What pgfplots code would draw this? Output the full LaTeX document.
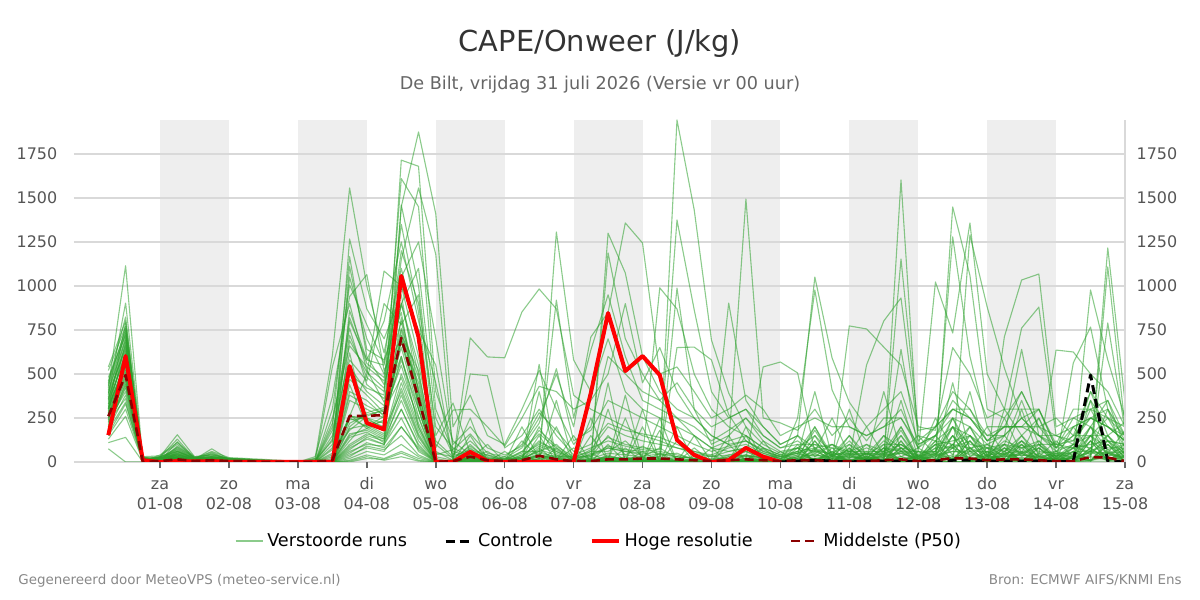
\documentclass[border=0pt]{standalone}
\usepackage{fontspec}
\setmainfont{DejaVu Sans}
\usepackage{pgfplots}
\usepackage{pgfplotstable}
\pgfplotsset{compat=1.18}
\definecolor{bandgray}{HTML}{EEEEEE}
\definecolor{gridgray}{HTML}{D9D9D9}
\definecolor{ensgreen}{HTML}{2CA02C}
\definecolor{ticktext}{HTML}{555555}
\definecolor{titlecol}{HTML}{333333}
\definecolor{subcol}{HTML}{666666}
\definecolor{footcol}{HTML}{888888}
\definecolor{p50col}{HTML}{8B0000}

\pgfplotstableread{
t m1 m2 m3 m4 m5 m6 m7 m8 m9 m10 m11 m12 m13 m14 m15 m16 m17 m18 m19 m20 m21 m22 m23 m24 m25 m26 m27 m28 m29 m30 m31 m32 m33 m34 m35 m36 m37 m38 m39 m40 m41 m42 m43 m44 m45 m46 m47 m48 m49 m50
0.25 420 380 450 300 250 330 200 280 350 310  400 270 230 440 360 190 320 290 480 260  150 340 410 220 300 520 180 370 240 130  390 280 210 460 330 160 250 540 350 75  300 230 430 270 110 390 200 310 360 240
0.5 1115 903 824 790 600 520 450 680 700 560  740 480 400 760 650 380 620 540 720 500  300 610 690 440 580 770 340 660 470 260  710 530 420 750 630 330 490 800 590 0  550 360 730 510 140 640 430 570 670 460
0.75 10 20 5 15 0 25 10 5 30 10  15 5 0 20 10 5 15 25 10 0  5 10 20 0 15 10 5 30 10 5  20 10 0 15 5 10 25 5 15 0  10 5 20 10 0 15 5 10 20 5
1.0 20 10 30 5 15 25 10 20 35 5  10 25 15 5 30 20 10 15 5 25  15 5 20 30 10 15 25 5 20 10  5 20 10 15 40 5 10 25 15 20  25 10 5 20 15 30 10 5 15 10
1.25 60 20 155 30 10 80 40 15 100 25  50 130 20 10 70 35 90 15 45 5  30 115 25 60 10 40 20 85 15 50  20 65 10 35 110 25 55 15 30 10  40 20 75 10 30 45 15 60 25 5
1.5 15 10 30 5 10 20 15 5 25 10  10 20 5 10 15 10 25 5 10 0  10 15 10 20 5 10 5 25 10 15  5 20 10 5 30 10 15 5 10 5  15 5 20 10 5 15 10 20 5 10
1.75 25 10 40 15 5 60 20 10 30 5  20 45 10 5 75 15 30 10 20 5  10 35 15 25 5 50 10 20 5 15  10 25 5 15 40 10 20 5 30 10  15 5 55 10 20 30 5 15 10 5
2.0 15 10 20 5 10 25 10 5 15 5  10 20 5 10 15 10 20 5 10 5  5 15 10 20 5 10 5 15 10 5  10 15 5 10 20 5 10 5 15 5  10 5 15 5 10 20 5 10 5 5
2.25 10 5 15 5 10 20 5 5 10 5  5 15 5 5 10 5 15 5 5 0  5 10 5 15 0 5 5 10 5 0  5 10 0 5 15 5 5 0 10 0  5 0 10 5 5 15 0 5 5 0
2.5 5 0 10 5 5 15 0 5 5 0  5 10 0 5 5 0 10 5 0 0  0 5 5 10 0 0 5 5 0 0  5 5 0 0 10 0 5 0 5 0  0 0 5 0 5 10 0 0 5 0
2.75 0 0 5 0 0 10 0 0 5 0  0 5 0 0 5 0 5 0 0 0  0 0 0 5 0 0 0 5 0 0  0 5 0 0 5 0 0 0 0 0  0 0 5 0 0 5 0 0 0 0
3.0 0 0 0 0 0 0 0 0 0 0  0 0 0 0 0 0 0 0 0 0  0 0 0 0 0 0 0 0 0 0  0 0 0 0 0 0 0 0 0 0  0 0 0 0 0 0 0 0 0 0
3.25 0 0 10 0 20 0 0 30 0 0  0 0 0 15 0 0 0 0 0 0  0 0 0 0 0 10 0 0 0 0  0 0 0 0 0 0 0 0 20 0  0 0 0 0 0 0 0 0 0 0
3.5 0 50 120 0 605 10 200 370 0 5  80 0 300 0 150 0 0 10 540 0  0 250 0 0 100 0 5 0 180 0  30 0 0 220 0 0 70 0 0 10  0 0 130 0 0 40 0 0 20 0
3.75 250 180 820 90 1557 1267 1167 940 260 400  500 60 1006 350 720 40 260 1110 900 120  20 660 200 190 1050 0 470 150 580 80  240 860 100 760 30 270 540 10 690 220  380 140 620 50 440 260 70 160 800 5
4.0 200 260 560 150 1000 870 600 1065 500 350  420 100 780 300 480 80 240 640 520 230  60 540 280 210 700 20 380 190 460 130  250 580 160 440 90 190 400 40 510 270  320 170 210 110 200 250 140 180 580 30
4.25 150 300 480 120 620 700 440 520 1085 260  380 90 560 250 400 60 200 580 340 180  40 460 310 160 500 15 280 140 900 100  220 800 130 360 70 240 320 20 420 290  270 110 230 80 260 190 100 130 550 10
4.5 500 900 1200 300 1100 950 800 700 1000 1715  1610 1460 1350 1450 1150 200 750 850 600 400  100 1050 650 720 900 50 550 450 780 250  820 1250 350 680 150 600 760 60 900 480  700 380 720 200 580 690 300 420 1000 30
4.75 250 500 900 100 700 400 350 450 600 1680  1450 1000 850 1875 1557 80 380 300 200 150  30 1250 300 520 1100 10 220 180 950 60  400 800 120 330 40 260 480 20 550 200  360 140 420 70 300 340 90 160 750 5
5.0 0 50 200 0 100 0 0 20 60 400  300 150 0 1410 1180 0 30 0 0 0  0 700 0 10 250 0 0 0 80 0  0 450 0 0 0 5 0 0 120 0  0 0 40 0 0 0 0 0 550 0
5.25 0 30 80 0 20 0 5 0 10 120  60 335 0 200 50 0 10 0 0 5  0 100 0 0 40 0 0 0 295 0  10 20 0 0 0 0 5 0 30 0  0 0 70 0 0 0 0 5 15 0
5.5 100 250 30 80 10 60 0 150 20 40  30 50 20 380 10 705 500 0 40 5  0 200 30 10 120 0 60 15 300 0  50 90 0 20 5 30 40 0 70 10  20 0 160 0 30 15 0 25 60 0
5.75 10 0 60 0 20 0 15 0 100 40  5 10 0 150 0 597 490 0 10 0  0 80 5 0 30 0 10 0 200 0  15 20 0 5 0 10 0 0 40 0  5 0 50 0 10 0 0 5 25 0
6.0 20 60 0 5 0 10 0 30 0 5  0 5 0 100 0 592 80 0 5 0  0 40 0 0 15 0 5 0 90 0  10 15 0 0 0 5 0 0 20 0  0 0 30 0 5 0 0 0 10 0
6.25 20 0 120 5 40 0 30 0 200 60  10 30 0 300 0 852 150 5 20 0  0 90 10 0 50 0 20 0 250 0  40 60 0 10 0 15 5 0 80 0  10 0 100 0 20 5 0 10 30 0
6.5 200 555 30 80 0 150 10 400 20 60  40 120 10 520 20 983 300 15 60 0  5 250 40 20 180 0 90 10 430 0  100 160 0 50 10 70 30 0 220 5  35 0 280 5 60 30 0 40 110 0
6.75 30 10 200 0 80 0 40 10 350 100  20 60 5 300 10 870 150 1307 920 0  0 500 20 10 90 0 50 5 400 0  60 80 0 30 0 40 15 0 530 0  15 0 180 0 25 10 0 20 70 0
7.0 30 150 0 10 0 20 0 80 0 10  5 20 0 100 0 380 40 580 250 0  0 200 5 0 30 0 10 0 300 0  10 20 0 5 0 10 0 0 120 0  0 0 60 0 5 0 0 5 15 0
7.25 30 0 150 0 50 0 20 5 250 60  10 40 0 200 5 300 80 400 636 0  0 710 10 0 60 0 20 0 350 0  30 70 0 10 0 15 5 0 180 0  5 0 100 0 10 5 0 10 40 0
7.5 150 450 10 40 0 100 0 300 10 60  20 80 5 600 10 250 120 700 950 1300  1188 850 30 0 140 0 50 5 500 0  80 200 0 20 0 30 10 0 350 0  10 0 220 0 25 15 0 20 90 0
7.75 40 5 250 0 80 0 30 5 380 120  15 60 0 500 5 200 90 400 600 1074  700 1358 20 0 100 0 40 0 900 0  60 150 0 15 0 20 5 0 300 0  5 0 180 0 20 10 0 15 70 0
8.0 90 300 5 25 0 60 0 200 5 30  10 50 0 400 5 150 70 300 350 600  500 1244 30 10 80 0 30 0 450 0  40 120 0 10 0 25 5 0 250 0  5 0 160 0 15 10 0 20 60 0
8.25 40 0 180 0 50 0 20 0 250 80  10 40 0 350 0 120 60 250 300 400  350 500 990 30 70 0 25 0 650 0  30 100 0 10 0 20 0 0 200 0  5 0 140 0 10 5 0 15 50 0
8.5 50 200 0 10 0 30 0 120 0 20  5 30 0 450 0 80 40 200 250 300  250 540 869 1943 1375 988 650 0 400 0  20 80 0 5 0 10 0 0 150 0  0 0 100 0 10 0 0 10 30 0
8.75 10 0 80 0 20 0 5 0 150 30  0 20 0 300 0 60 20 150 200 250  150 400 500 1432 864 300 653 0 250 0  10 50 0 0 0 5 0 0 100 0  0 0 60 0 5 0 0 5 20 0
9.0 20 80 0 0 0 10 0 40 0 5  0 10 0 200 0 30 10 80 120 150  80 250 300 693 400 100 580 0 150 0  5 30 0 0 0 0 0 0 60 0  0 0 40 0 0 0 0 0 10 0
9.25 20 0 100 0 30 0 10 0 150 40  5 30 0 250 0 60 20 120 180 100  60 300 200 392 250 150 270 903 100 0  10 40 0 5 0 10 0 0 90 0  0 0 80 0 10 0 0 5 20 0
9.5 60 200 5 20 0 40 0 150 0 30  10 40 0 300 5 80 30 150 250 120  80 380 150 200 300 250 120 350 1494 20  20 60 0 10 0 15 5 0 120 0  5 0 100 0 20 5 0 10 40 0
9.75 15 0 80 0 20 0 10 0 120 30  5 20 0 200 0 50 15 80 150 60  40 300 80 100 150 120 60 200 250 540  10 30 0 5 0 10 0 0 70 0  0 0 50 0 10 0 0 5 20 0
10.0 10 60 0 0 0 10 0 40 0 5  0 10 0 100 0 20 5 40 80 30  20 150 40 50 80 60 30 100 222 568  5 10 0 0 0 5 0 0 30 0  0 0 20 0 5 0 0 0 10 0
10.25 20 0 80 5 30 0 10 0 100 40  5 30 0 150 0 60 20 80 120 50  40 200 60 80 100 80 50 150 180 506  150 250 0 10 0 20 5 0 60 0  5 0 50 0 15 5 0 10 30 0
10.5 60 150 5 20 0 50 10 120 0 40  70 180 120 30 80 5 200 0 50 10  400 250 200 60 100 150 100 80 300 60  1051 977 5 20 0 30 10 0 80 0  10 0 70 0 20 10 0 15 40 0
10.75 20 0 60 0 30 0 10 0 80 30  5 30 0 100 0 40 15 60 100 40  30 200 40 50 80 50 30 100 150 250  591 409 0 10 0 15 5 0 40 0  5 0 40 0 10 0 0 5 20 0
11.0 40 100 0 15 0 40 0 80 0 30  50 120 80 20 60 0 150 0 40 5  300 200 150 40 60 100 70 60 250 40  340 200 773 20 5 25 10 0 60 0  5 0 50 0 15 5 0 10 30 0
11.25 10 0 50 0 20 0 5 0 60 20  0 20 0 100 0 30 10 50 80 30  20 150 40 50 60 40 20 100 120 200  200 150 756 551 0 15 5 0 40 0  0 0 30 0 10 0 0 5 20 0
11.5 40 100 5 15 0 40 5 80 0 30  50 120 80 20 60 0 150 0 40 5  400 200 150 40 60 100 80 60 250 40  300 200 653 801 10 25 10 0 60 0  5 0 50 0 20 5 0 10 30 0
11.75 50 0 120 10 60 5 30 10 150 60  10 60 0 200 5 80 30 120 180 80  60 300 80 100 150 100 60 200 250 350  400 250 550 932 1602 1153 640 0 100 0  10 0 80 0 30 10 0 15 50 0
12.0 20 60 0 5 0 20 0 40 0 10  30 60 40 10 30 0 80 0 20 0  150 80 60 20 30 50 40 30 100 20  120 80 200 150 100 180 60 0 30 0  0 0 20 0 10 0 0 5 10 0
12.25 30 0 100 5 40 0 15 0 120 40  5 40 0 150 0 60 20 80 100 50  40 200 60 80 100 60 40 120 150 250  200 150 180 120 150 200 1023 5 60 0  5 0 50 0 20 5 0 10 30 0
12.5 80 200 10 30 5 80 10 150 5 60  100 200 150 40 100 10 250 5 80 10  450 300 250 80 120 200 150 100 350 80  300 250 650 200 300 400 733 1449 1279 5  20 0 100 0 40 20 0 30 60 0
12.75 40 0 120 5 60 0 20 5 150 60  5 60 0 200 5 80 30 120 150 80  60 300 80 120 150 100 60 200 250 400  250 200 500 150 250 300 1358 1060 600 1290  15 0 80 0 30 15 0 20 50 0
13.0 30 80 0 10 0 30 0 60 0 20  40 80 60 15 40 0 100 0 30 0  200 120 100 30 50 80 60 40 150 30  120 100 250 80 120 150 500 300 200 881  5 0 40 0 15 5 0 10 20 0
13.25 30 0 80 5 40 0 15 5 100 40  5 40 0 150 5 60 20 80 100 50  40 200 60 80 100 60 40 120 150 250  200 150 300 100 150 200 300 250 200 534  712 300 50 0 20 5 0 10 30 0
13.5 50 120 5 20 0 50 5 100 0 40  60 120 100 30 80 5 150 0 50 5  300 200 150 50 80 120 100 80 250 50  400 250 300 350 640 200 150 400 200 250  1034 761 60 0 25 10 0 15 40 0
13.75 20 0 80 0 30 0 10 0 100 30  0 30 0 120 0 50 15 80 100 40  30 200 50 80 100 60 30 120 150 250  200 150 300 100 150 300 250 200 150 300  1068 880 40 0 15 5 0 10 25 0
14.0 20 50 0 5 0 20 0 40 0 10  20 50 40 10 30 0 60 0 20 0  120 80 60 20 30 50 40 30 100 20  250 60 80 100 150 80 60 150 80 100  200 150 636 0 10 0 0 5 15 0
14.25 20 0 60 0 30 0 10 0 80 30  0 30 0 100 0 40 15 60 80 30  30 150 40 60 80 50 30 100 120 200  150 100 250 80 120 200 150 100 80 300  250 200 625 563 20 5 0 10 20 0
14.5 60 150 10 30 5 60 10 120 5 50  80 150 120 40 80 10 200 5 60 10  350 250 200 60 100 150 120 80 250 60  400 150 200 300 350 250 150 400 200 300  300 250 500 767 977 30 10 40 60 5
14.75 40 5 100 10 50 5 25 10 120 50  10 50 5 150 10 70 30 100 120 60  50 200 70 100 120 80 50 150 200 300  250 150 350 120 200 300 250 150 120 350  250 200 400 300 580 1216 1108 790 50 5
15.0 30 80 0 10 0 30 5 60 0 20  30 80 60 15 40 5 100 0 30 5  180 120 100 30 50 80 60 40 120 30  200 60 80 100 150 120 80 227 100 150  150 120 200 150 250 341 200 180 30 0
}\members

\pgfplotstableread{
t v
0.25 153
0.5 602
0.75 10
1.0 0
1.25 5
1.5 3
1.75 5
2.0 0
2.25 0
2.5 0
2.75 0
3.0 0
3.25 0
3.5 0
3.75 545
4.0 222
4.25 185
4.5 1057
4.75 710
5.0 0
5.25 0
5.5 57
5.75 5
6.0 0
6.25 0
6.5 0
6.75 0
7.0 0
7.25 392
7.5 846
7.75 517
8.0 602
8.25 494
8.5 125
8.75 40
9.0 0
9.25 10
9.5 80
9.75 30
10.0 0
}\hres

\pgfplotstableread{
t v
0.25 153
0.5 602
0.75 10
1.0 0
1.25 5
1.5 3
1.75 5
2.0 0
2.25 0
2.5 0
2.75 0
3.0 0
3.25 0
3.5 0
3.75 545
4.0 222
4.25 185
4.5 1057
4.75 710
5.0 0
5.25 0
5.5 57
5.75 5
6.0 0
6.25 0
6.5 0
6.75 0
7.0 0
7.25 392
7.5 846
7.75 517
8.0 602
8.25 494
8.5 125
8.75 40
9.0 0
9.25 10
9.5 80
9.75 30
10.0 0
10.25 5
10.5 10
10.75 5
11.0 0
11.25 5
11.5 5
11.75 5
12.0 0
12.25 5
12.5 10
12.75 10
13.0 5
13.25 5
13.5 5
13.75 5
14.0 0
14.25 5
14.5 494
14.75 5
15.0 0
}\control

\pgfplotstableread{
t v
0.25 260
0.5 494
0.75 0
1.0 5
1.25 15
1.5 5
1.75 10
2.0 5
2.25 5
2.5 0
2.75 0
3.0 0
3.25 0
3.5 10
3.75 261
4.0 262
4.25 267
4.5 705
4.75 360
5.0 0
5.25 5
5.5 30
5.75 10
6.0 5
6.25 10
6.5 35
6.75 15
7.0 5
7.25 5
7.5 15
7.75 15
8.0 20
8.25 20
8.5 15
8.75 10
9.0 5
9.25 10
9.5 15
9.75 10
10.0 5
10.25 10
10.5 10
10.75 5
11.0 5
11.25 5
11.5 10
11.75 15
12.0 5
12.25 10
12.5 22
12.75 20
13.0 10
13.25 15
13.5 15
13.75 10
14.0 5
14.25 5
14.5 28
14.75 25
15.0 5
}\pfifty

\begin{document}
\begin{tikzpicture}
\useasboundingbox (0,0) rectangle (600bp,300bp);
\node[anchor=base, inner sep=0, font=\fontsize{14.5}{17}\selectfont, text=titlecol] at (300bp,274bp) {CAPE/Onweer (J/kg)};
\node[anchor=base, inner sep=0, font=\fontsize{8.85}{10}\selectfont, text=subcol] at (300bp,255bp) {De Bilt, vrijdag 31 juli 2026 (Versie vr 00 uur)};
\node[anchor=base west, inner sep=0, font=\fontsize{6.75}{8}\selectfont, text=footcol] at (9bp,8bp) {Gegenereerd door MeteoVPS (meteo-service.nl)};
\node[anchor=base east, inner sep=0, font=\fontsize{6.75}{8}\selectfont, text=footcol] at (591bp,8bp) {Bron: ECMWF AIFS/KNMI Ens};

% background bands (alternate days)
\begin{axis}[
  at={(36.95bp,69bp)}, anchor=south west,
  scale only axis, width=525.55bp, height=171bp,
  xmin=-0.25, xmax=15, ymin=0, ymax=1943,
  hide axis,
]
\addplot[draw=none, forget plot] coordinates {(0,0) (15,1943)};
\fill[bandgray] (axis cs:1,0) rectangle (axis cs:2,1943);
\fill[bandgray] (axis cs:3,0) rectangle (axis cs:4,1943);
\fill[bandgray] (axis cs:5,0) rectangle (axis cs:6,1943);
\fill[bandgray] (axis cs:7,0) rectangle (axis cs:8,1943);
\fill[bandgray] (axis cs:9,0) rectangle (axis cs:10,1943);
\fill[bandgray] (axis cs:11,0) rectangle (axis cs:12,1943);
\fill[bandgray] (axis cs:13,0) rectangle (axis cs:14,1943);
\end{axis}

\begin{axis}[
  at={(36.95bp,69bp)}, anchor=south west,
  scale only axis, width=525.55bp, height=171bp,
  xmin=-0.25, xmax=15, ymin=0, ymax=1943,
  axis line style={draw=none},
  xtick={1,...,15},
  xticklabels={{za\strut\\01-08\strut},{zo\strut\\02-08\strut},{ma\strut\\03-08\strut},{di\strut\\04-08\strut},{wo\strut\\05-08\strut},{do\strut\\06-08\strut},{vr\strut\\07-08\strut},{za\strut\\08-08\strut},{zo\strut\\09-08\strut},{ma\strut\\10-08\strut},{di\strut\\11-08\strut},{wo\strut\\12-08\strut},{do\strut\\13-08\strut},{vr\strut\\14-08\strut},{za\strut\\15-08\strut}},
  x tick label style={align=center, font=\fontsize{8}{10}\selectfont, text=ticktext, yshift=-0.5bp},
  ytick={0,250,...,1750},
  y tick label style={font=\fontsize{8}{10}\selectfont, text=ticktext, xshift=-1.8bp},
  /pgf/number format/assume math mode=true,
  /pgf/number format/1000 sep={},
  ymajorgrids, grid style={draw=gridgray, line width=0.6bp},
  tick align=outside, xtick pos=left, ytick pos=left,
  x tick style={draw=black!60, line width=0.8bp},
  y tick style={draw=none},
  major tick length=3bp,
  legend columns=4,
  legend cell align=left,
  legend style={at={(0.5006,-0.231)}, anchor=center, draw=none, fill=none,
    font=\fontsize{8.85}{10}\selectfont,
    /tikz/every even column/.append style={column sep=16.5bp}},
  legend image code/.code={\draw[#1] (0bp,0bp) -- (13.5bp,0bp);},
]
\addplot[ensgreen, opacity=0.55, line width=0.55bp, line join=round] table[x=t, y=m1] {\members};
\addlegendentry{Verstoorde runs}
\pgfplotsinvokeforeach{2,...,50}{
  \addplot[ensgreen, opacity=0.55, line width=0.55bp, line join=round, forget plot] table[x=t, y=m#1] {\members};
}
\addplot[black, line width=1.5bp, dash pattern=on 4.5bp off 2.5bp, line join=round] table[x=t, y=v] {\control};
\addlegendentry{Controle}
\addplot[red, line width=2bp, line join=round] table[x=t, y=v] {\hres};
\addlegendentry{Hoge resolutie}
\addplot[p50col, line width=1.3bp, dash pattern=on 4.5bp off 2.5bp, line join=round] table[x=t, y=v] {\pfifty};
\addlegendentry{Middelste (P50)}
\end{axis}

\begin{axis}[
  at={(36.95bp,69bp)}, anchor=south west,
  scale only axis, width=525.55bp, height=171bp,
  xmin=-0.25, xmax=15, ymin=0, ymax=1943,
  axis x line=none, axis y line*=right,
  y axis line style={draw=gridgray, line width=0.8bp},
  ytick={0,250,...,1750},
  y tick label style={font=\fontsize{8}{10}\selectfont, text=ticktext, xshift=2.3bp},
  /pgf/number format/assume math mode=true,
  /pgf/number format/1000 sep={},
  y tick style={draw=none},
  major tick length=0pt,
]
\addplot[draw=none, forget plot] coordinates {(0,0) (15,1943)};
\end{axis}
\end{tikzpicture}
\end{document}
